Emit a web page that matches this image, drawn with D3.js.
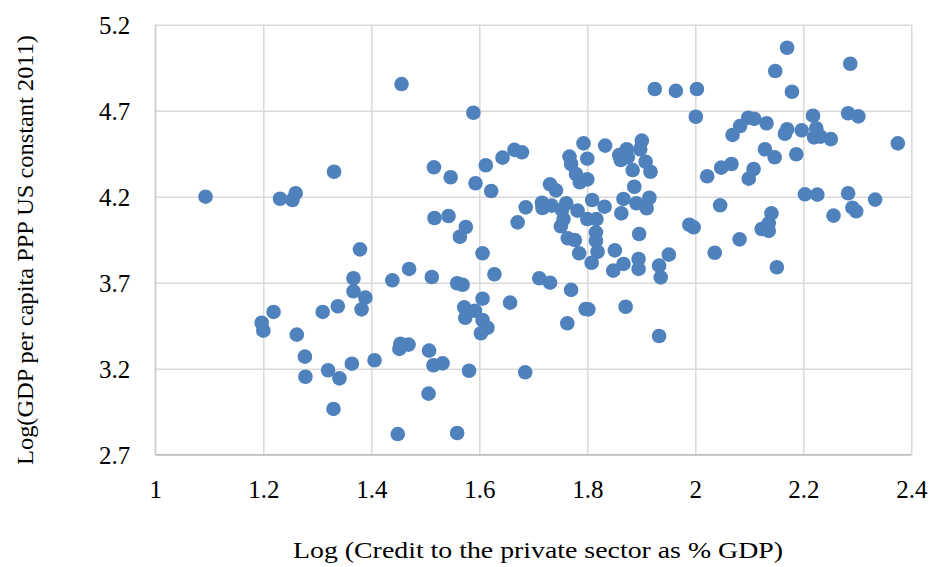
<!DOCTYPE html>
<html>
<head>
<meta charset="utf-8">
<script src="https://cdn.jsdelivr.net/npm/d3@7"></script>
<style>
  body { margin: 0; background: #fff; }
  text { font-family: "Liberation Serif", "DejaVu Serif", serif; fill: #000; }
  .grid line { stroke: #d9d9d9; stroke-width: 1.5px; }
  .grid path { display: none; }
</style>
</head>
<body>
<div id="chart"></div>
<script>
// log of private credit (% GDP)
var creditLog = [
  1.093, 1.231, 1.260, 1.254, 1.331, 1.456, 1.589, 1.665, 1.679, 1.643,
  1.612, 1.516, 1.547, 1.593, 1.622, 1.686, 1.517, 1.543, 1.575, 1.564,
  1.671, 1.379, 1.606, 1.470, 1.628, 1.367, 1.439, 1.512, 1.559, 1.569,
  1.367, 1.389, 1.606, 1.657, 1.219, 1.310, 1.338, 1.382, 1.572, 1.592,
  1.574, 1.606, 1.615, 1.603, 1.197, 1.200, 1.262, 1.454, 1.469, 1.452,
  1.507, 1.277, 1.406, 1.364, 1.515, 1.532, 1.320, 1.581, 1.685, 1.278,
  1.341, 1.506, 1.330, 1.449, 1.559,
  2.170, 2.287, 2.148, 1.925, 1.964, 2.003, 2.179, 2.001, 2.218, 2.283,
  2.302, 2.098, 2.109, 2.083, 2.132, 2.069, 2.170, 2.166, 2.197, 2.224,
  2.220, 2.232, 2.251, 2.375, 2.129, 2.147, 2.187,
  1.793, 1.833, 1.901, 1.873, 1.859, 1.862, 1.875, 1.898, 1.767, 1.770,
  1.800, 1.908, 1.884, 1.917, 1.779, 1.786, 1.800,
  2.067, 2.048, 2.108, 2.099, 2.022, 1.731, 1.742, 1.887, 2.203, 2.226,
  2.283, 2.333,
  1.716, 1.717, 1.734, 1.761, 1.753, 1.782, 1.809, 1.832, 1.867, 1.863,
  1.891, 1.915, 1.910, 2.046, 2.256, 2.291, 2.298, 2.141,
  1.756, 1.751, 1.800, 1.817, 1.989, 1.997, 2.123, 2.136, 2.136, 1.816,
  1.816, 1.896, 1.764, 1.777, 2.082,
  1.785, 1.819, 1.808, 1.851, 2.036, 1.895, 1.895, 1.867, 1.848, 1.933,
  1.936, 1.951, 2.151, 1.711, 1.731, 1.770, 1.802, 1.797, 1.871, 1.763,
  1.933
];

// log of GDP per capita, same order
var gdpLog = [
  4.200, 4.188, 4.220, 4.181, 4.345, 4.855, 4.688, 4.472, 4.458, 4.427,
  4.383, 4.371, 4.313, 4.278, 4.233, 4.138, 4.076, 4.088, 4.024, 3.967,
  4.051, 3.894, 3.871, 3.780, 3.749, 3.726, 3.714, 3.733, 3.697, 3.688,
  3.650, 3.613, 3.607, 3.584, 3.530, 3.530, 3.563, 3.545, 3.557, 3.537,
  3.496, 3.483, 3.438, 3.406, 3.467, 3.421, 3.398, 3.345, 3.340, 3.315,
  3.305, 3.270, 3.249, 3.229, 3.220, 3.231, 3.191, 3.188, 3.179, 3.153,
  3.144, 3.055, 2.966, 2.820, 2.826,
  5.066, 4.973, 4.931, 4.826, 4.815, 4.826, 4.810, 4.665, 4.671, 4.685,
  4.667, 4.659, 4.653, 4.611, 4.627, 4.559, 4.592, 4.566, 4.586, 4.598,
  4.545, 4.549, 4.535, 4.510, 4.476, 4.429, 4.447,
  4.510, 4.497, 4.526, 4.476, 4.442, 4.413, 4.429, 4.476, 4.433, 4.390,
  4.421, 4.403, 4.355, 4.345, 4.332, 4.284, 4.301,
  4.390, 4.369, 4.361, 4.305, 4.319, 4.272, 4.237, 4.258, 4.214, 4.212,
  4.220, 4.183,
  4.165, 4.134, 4.148, 4.162, 4.123, 4.119, 4.181, 4.142, 4.187, 4.103,
  4.162, 4.194, 4.133, 4.150, 4.090, 4.136, 4.115, 4.103,
  4.070, 4.028, 4.070, 4.070, 4.037, 4.022, 4.012, 4.045, 4.001, 3.993,
  3.944, 3.983, 3.958, 3.948, 3.952,
  3.871, 3.880, 3.816, 3.888, 3.874, 3.838, 3.780, 3.809, 3.770, 3.799,
  3.731, 3.863, 3.790, 3.726, 3.700, 3.658, 3.545, 3.547, 3.560, 3.464,
  3.390
];

var xTicks = [1, 1.2, 1.4, 1.6, 1.8, 2, 2.2, 2.4];
var yTicks = [2.7, 3.2, 3.7, 4.2, 4.7, 5.2];
var xTitle = "Log (Credit to the private sector as % GDP)";
var yTitle = "Log(GDP per capita PPP US constant 2011)";

var data = creditLog.map(function (d, i) {
  return { x: d, y: gdpLog[i] };
});

var margin = { top: 24.7, right: 23.7, bottom: 112.3, left: 155.3 },
  width = 935 - margin.left - margin.right,
  height = 567 - margin.top - margin.bottom;

var svg = d3
  .select("#chart")
  .append("svg")
  .attr("width", 935)
  .attr("height", 567);

var g = svg
  .append("g")
  .attr("transform", "translate(" + margin.left + "," + margin.top + ")");

var x = d3.scaleLinear().domain([1, 2.4]).range([0, width]);
var y = d3.scaleLinear().domain([2.7, 5.2]).range([height, 0]);

// gridlines
g.append("g")
  .attr("class", "grid")
  .attr("transform", "translate(0," + height + ")")
  .call(d3.axisBottom(x).tickValues(xTicks).tickSize(-height).tickFormat(""));
g.append("g")
  .attr("class", "grid")
  .call(d3.axisLeft(y).tickValues(yTicks).tickSize(-width).tickFormat(""));

// left and bottom axis lines
g.append("line")
  .attr("x1", 0).attr("x2", 0)
  .attr("y1", 0).attr("y2", height)
  .style("stroke", "#d0d0d0")
  .style("stroke-width", "1.5px");
g.append("line")
  .attr("x1", 0).attr("x2", width)
  .attr("y1", height).attr("y2", height)
  .style("stroke", "#bfbfbf")
  .style("stroke-width", "1.5px");

// tick labels
var xAxis = g
  .append("g")
  .attr("transform", "translate(0," + height + ")")
  .call(
    d3.axisBottom(x).tickValues(xTicks).tickSize(0)
      .tickFormat(function (d) { return String(+d.toFixed(1)); })
  );
xAxis.select(".domain").remove();
xAxis.selectAll("text")
  .attr("y", 43)
  .attr("dy", 0)
  .style("font-size", "25px");

var yAxis = g
  .append("g")
  .call(
    d3.axisLeft(y).tickValues(yTicks).tickSize(0).tickPadding(25)
      .tickFormat(d3.format(".1f"))
  );
yAxis.select(".domain").remove();
yAxis.selectAll("text")
  .attr("dy", "0.34em")
  .style("font-size", "25px");

// points
g.append("g")
  .selectAll("circle")
  .data(data)
  .enter()
  .append("circle")
  .attr("cx", function (d) { return x(d.x); })
  .attr("cy", function (d) { return y(d.y); })
  .attr("r", 7.3)
  .style("fill", "#4f81bd");

// axis titles
svg.append("text")
  .attr("x", 538)
  .attr("y", 558)
  .attr("text-anchor", "middle")
  .attr("textLength", 490)
  .attr("lengthAdjust", "spacingAndGlyphs")
  .style("font-size", "24px")
  .text(xTitle);

svg.append("text")
  .attr("transform", "translate(33,250) rotate(-90)")
  .attr("text-anchor", "middle")
  .attr("textLength", 430)
  .attr("lengthAdjust", "spacingAndGlyphs")
  .style("font-size", "24px")
  .text(yTitle);
</script>
</body>
</html>
